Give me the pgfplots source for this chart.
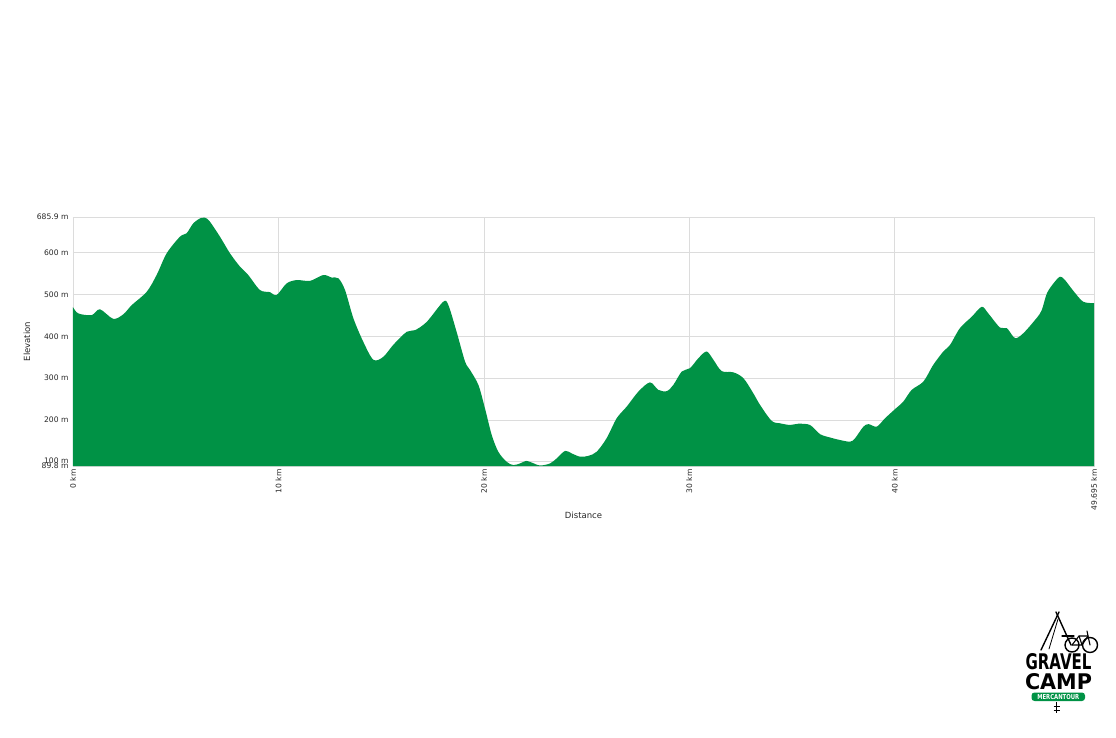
\documentclass[border=0pt]{standalone}
\usepackage{fontspec}
\setmainfont{DejaVu Sans}
\usepackage{graphicx}
\usepackage{pgfplots}
\pgfplotsset{compat=1.18}
\definecolor{elev}{RGB}{0,146,69}
\definecolor{gridc}{RGB}{220,220,220}
\begin{document}
\begin{tikzpicture}[x=1pt,y=1pt]
\path (0,0) rectangle (1116,737);
\begin{axis}[
  at={(73pt,271pt)}, anchor=south west,
  scale only axis, width=1021pt, height=249pt,
  xmin=0, xmax=49.695, ymin=89.8, ymax=685.9,
  xtick={0,10,20,30,40,49.695},
  xticklabels={0 km,10 km,20 km,30 km,40 km,49.695 km},
  ytick={89.8,100,200,300,400,500,600,685.9},
  yticklabels={\raisebox{-2.2pt}{89.8 m},\raisebox{2.2pt}{100 m},200 m,300 m,400 m,500 m,600 m,685.9 m},
  grid=major, major grid style={draw=gridc, line width=0.8pt},
  axis line style={draw=gridc, line width=0.8pt},
  tick style={draw=none},
  tick label style={font=\fontsize{7.6}{8}\selectfont, text=black!85},
  x tick label style={rotate=90, anchor=east},
  y tick label style={anchor=east, xshift=-1pt},
  xlabel=Distance, ylabel=Elevation,
  label style={font=\fontsize{8.5}{10}\selectfont, text=black!85},
  ylabel style={at={(axis description cs:-0.045,0.5)}, anchor=center, rotate=0},
  xlabel style={at={(axis description cs:0.5,-0.197)}, anchor=center},
]
\addplot[fill=elev, draw=none, smooth, tension=0.5] coordinates {
(0,470) (0.26,455) (0.91,451) (1.31,465) (1.96,442) (2.45,453) (2.86,475)
(3.59,507) (4.07,547) (4.56,599) (5.21,639) (5.53,647) (5.86,671) (6.26,684)
(6.59,679) (7.15,639) (7.64,599) (8.13,567) (8.53,547) (9.1,511) (9.59,506)
(9.91,499) (10.4,527) (10.89,535) (11.54,533) (12.18,547) (12.59,541) (12.92,539)
(13.24,511) (13.65,443) (14.13,387) (14.62,344) (15.1,351) (15.59,380) (16.24,411)
(16.65,415) (17.22,435) (18.02,483) (18.27,475) (18.67,411) (19.08,340) (19.32,320)
(19.73,284) (20.05,228) (20.38,164) (20.7,124) (21.1,100) (21.43,92) (21.76,96)
(22.05,102) (22.33,98) (22.73,91) (23.22,96) (23.54,108) (23.95,126) (24.27,120)
(24.68,112) (25.08,114) (25.49,124) (25.98,157) (26.46,204) (26.95,232) (27.52,268)
(28.08,290) (28.49,272) (28.9,269) (29.22,284) (29.63,316) (30.03,324) (30.44,348)
(30.84,364) (31.17,344) (31.57,317) (32.14,314) (32.63,300) (33.11,264) (33.44,236)
(34.0,198) (34.41,192) (34.9,188) (35.3,191) (35.87,188) (36.36,166) (36.85,158)
(37.33,152) (37.82,148) (38.06,156) (38.47,184) (38.72,190) (39.12,184) (39.52,204)
(40.01,226) (40.41,244) (40.82,272) (41.39,292) (41.87,332) (42.36,364) (42.69,380)
(43.17,420) (43.74,447) (44.23,471) (44.55,455) (45.12,421) (45.45,420) (45.85,396)
(46.26,408) (46.9,444) (47.15,463) (47.4,503) (47.72,527) (48.04,543) (48.28,535)
(48.69,509) (49.17,483) (49.695,480)
} \closedcycle;
\end{axis}
% logo
\begin{scope}[line width=1.4pt, line cap=round, line join=round]
\draw (1041,87) -- (1059,125);
\draw (1056,125) -- (1071,92);
\draw[line width=0.8pt] (1049,88) -- (1058,118);
\draw (1072,92) circle (7);
\draw (1090,92) circle (7.5);
\draw[line width=1.1pt] (1072,92) -- (1079,101) -- (1088,101) -- (1090,92);
\draw[line width=1.1pt] (1079,101) -- (1082,92) -- (1072,92);
\draw[line width=1.1pt] (1082,92) -- (1088,101);
\draw[line width=1.1pt] (1062,101) -- (1074,101);
\draw[line width=1.1pt] (1088,101) -- (1087,106);
\end{scope}
\node[inner sep=0pt] at (1058.5,75.5) {\resizebox{66pt}{16pt}{\bfseries GRAVEL}};
\node[inner sep=0pt] at (1058.5,55.5) {\resizebox{67pt}{16pt}{\bfseries CAMP}};
\fill[elev, rounded corners=3pt] (1031.5,36) rectangle (1085,44.5);
\node[inner sep=0pt, text=white] at (1058.25,40.25) {\resizebox{42pt}{5pt}{\bfseries MERCANTOUR}};
\draw[line width=1.6pt] (1056.5,35) -- (1056.5,24);
\draw[line width=1pt] (1053.5,31) -- (1059.5,31);
\draw[line width=1pt] (1053.5,27) -- (1059.5,27);
\end{tikzpicture}
\end{document}
